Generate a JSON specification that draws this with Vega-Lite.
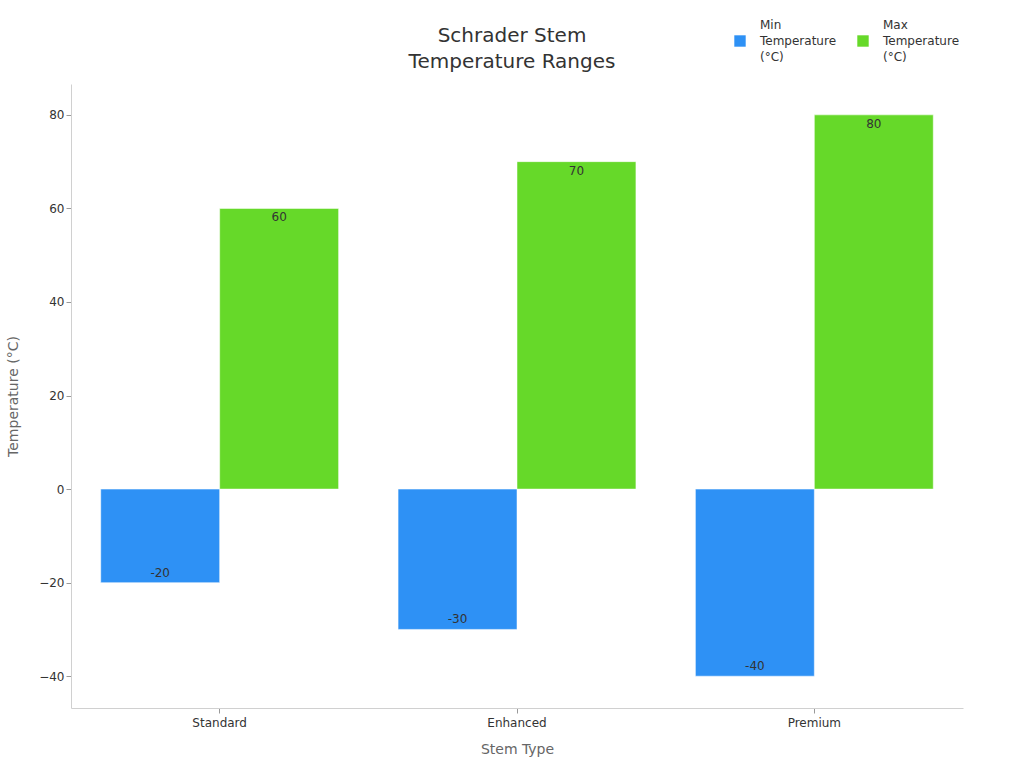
{
  "$schema": "https://vega.github.io/schema/vega-lite/v6.json",
  "width": 892,
  "height": 624,
  "autosize": {"type": "none"},
  "padding": {"left": 71, "top": 84, "right": 61, "bottom": 60},
  "config": {
    "font": "DejaVu Sans",
    "view": {"stroke": null},
    "style": {"guide-label": {"lineHeight": 16, "dy": -16}},
    "axis": {
      "domainColor": "#d0d0d0",
      "tickColor": "#999999",
      "labelColor": "#333333",
      "labelFontSize": 12,
      "titleColor": "#666666",
      "titleFontSize": 14,
      "titleFontWeight": "normal",
      "grid": false
    }
  },
  "title": {
    "text": ["Schrader Stem", "Temperature Ranges"],
    "fontSize": 20,
    "fontWeight": "normal",
    "color": "#333333",
    "lineHeight": 26,
    "offset": 14,
    "dy": 51,
    "dx": -5
  },
  "data": {
    "values": [
      {"Stem Type": "Standard", "Measure": "Min Temperature (°C)", "Temperature": -20},
      {"Stem Type": "Standard", "Measure": "Max Temperature (°C)", "Temperature": 60},
      {"Stem Type": "Enhanced", "Measure": "Min Temperature (°C)", "Temperature": -30},
      {"Stem Type": "Enhanced", "Measure": "Max Temperature (°C)", "Temperature": 70},
      {"Stem Type": "Premium", "Measure": "Min Temperature (°C)", "Temperature": -40},
      {"Stem Type": "Premium", "Measure": "Max Temperature (°C)", "Temperature": 80}
    ]
  },
  "encoding": {
    "x": {
      "field": "Stem Type",
      "type": "nominal",
      "sort": ["Standard", "Enhanced", "Premium"],
      "scale": {"paddingInner": 0.2, "paddingOuter": 0.1},
      "axis": {"labelAngle": 0, "titlePadding": 14, "labelPadding": 20}
    },
    "xOffset": {
      "field": "Measure",
      "type": "nominal",
      "sort": ["Min Temperature (°C)", "Max Temperature (°C)"]
    },
    "y": {
      "field": "Temperature",
      "type": "quantitative",
      "title": "Temperature (°C)",
      "scale": {"domain": [-46.8, 86.6], "nice": false, "zero": false},
      "axis": {"values": [-40, -20, 0, 20, 40, 60, 80], "titlePadding": 18, "labelOffset": 16}
    }
  },
  "layer": [
    {
      "mark": {"type": "bar", "strokeWidth": 1, "strokeOpacity": 0.5, "stroke": "#ffffff"},
      "encoding": {
        "color": {
          "field": "Measure",
          "type": "nominal",
          "sort": ["Min Temperature (°C)", "Max Temperature (°C)"],
          "scale": {"range": ["#2e91f5", "#66d929"]},
          "legend": {
            "title": null,
            "orient": "none",
            "legendX": 663,
            "legendY": -49,
            "direction": "horizontal",
            "columns": 2,
            "columnPadding": 20,
            "symbolType": "square",
            "symbolSize": 130,
            "symbolStrokeWidth": 0,
            "labelFontSize": 12,
            "labelColor": "#333333",
            "labelOffset": 14,
            "labelExpr": "datum.label == 'Min Temperature (°C)' ? ['Min', 'Temperature', '(°C)'] : ['Max', 'Temperature', '(°C)']"
          }
        }
      }
    },
    {
      "transform": [{"filter": "datum.Temperature >= 0"}],
      "mark": {"type": "text", "baseline": "top", "dy": 4, "fontSize": 12, "color": "#333333"},
      "encoding": {"text": {"field": "Temperature", "type": "nominal"}}
    },
    {
      "transform": [{"filter": "datum.Temperature < 0"}],
      "mark": {"type": "text", "baseline": "bottom", "dy": -3, "fontSize": 12, "color": "#333333"},
      "encoding": {"text": {"field": "Temperature", "type": "nominal"}}
    }
  ]
}
